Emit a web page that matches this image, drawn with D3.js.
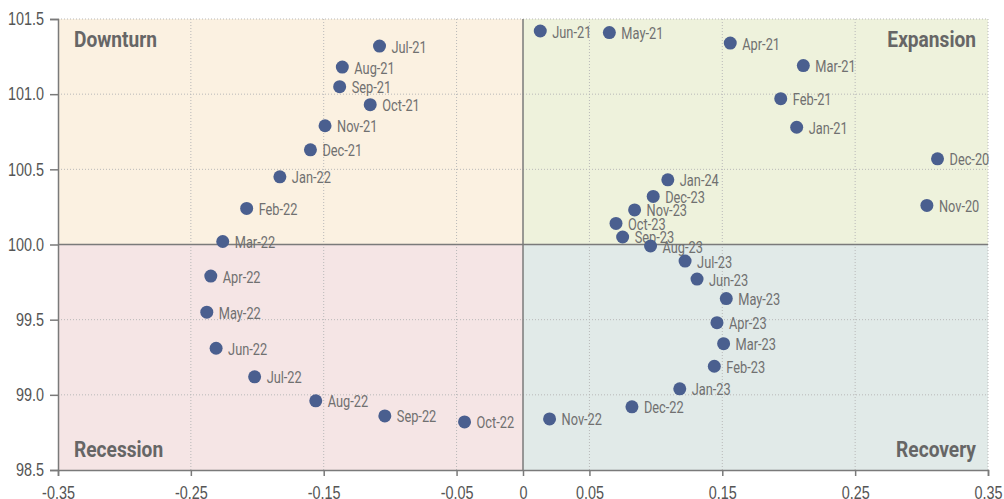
<!DOCTYPE html>
<html>
<head>
<meta charset="utf-8">
<script src="https://cdn.jsdelivr.net/npm/d3@7"></script>
<style>
  html, body { margin: 0; padding: 0; background: #fff; }
  svg { display: block; font-family: Roboto, "Liberation Sans", sans-serif; }
</style>
</head>
<body>
<div id="chart"></div>
<script>
// Business cycle scatter: momentum (x) vs level (y)
const months = [
  'Nov-20', 'Dec-20', 'Jan-21', 'Feb-21', 'Mar-21', 'Apr-21', 'May-21', 'Jun-21',
  'Jul-21', 'Aug-21', 'Sep-21', 'Oct-21', 'Nov-21', 'Dec-21', 'Jan-22', 'Feb-22',
  'Mar-22', 'Apr-22', 'May-22', 'Jun-22', 'Jul-22', 'Aug-22', 'Sep-22', 'Oct-22',
  'Nov-22', 'Dec-22', 'Jan-23', 'Feb-23', 'Mar-23', 'Apr-23', 'May-23', 'Jun-23',
  'Jul-23', 'Aug-23', 'Sep-23', 'Oct-23', 'Nov-23', 'Dec-23', 'Jan-24'
];
const momentum = [
  0.304, 0.312, 0.206, 0.194, 0.211, 0.156, 0.065, 0.013,
  -0.108, -0.136, -0.138, -0.115, -0.149, -0.160, -0.183, -0.208,
  -0.226, -0.235, -0.238, -0.231, -0.202, -0.156, -0.104, -0.044,
  0.020, 0.082, 0.118, 0.144, 0.151, 0.146, 0.153, 0.131,
  0.122, 0.096, 0.075, 0.070, 0.084, 0.098, 0.109
];
const level = [
  100.26, 100.57, 100.78, 100.97, 101.19, 101.34, 101.41, 101.42,
  101.32, 101.18, 101.05, 100.93, 100.79, 100.63, 100.45, 100.24,
  100.02, 99.79, 99.55, 99.31, 99.12, 98.96, 98.86, 98.82,
  98.84, 98.92, 99.04, 99.19, 99.34, 99.48, 99.64, 99.77,
  99.89, 99.99, 100.05, 100.14, 100.23, 100.32, 100.43
];
const xTicks = [-0.35, -0.25, -0.15, -0.05, 0, 0.05, 0.15, 0.25, 0.35];
const yTicks = [98.5, 99.0, 99.5, 100.0, 100.5, 101.0, 101.5];
const quadrants = ['Downturn', 'Expansion', 'Recession', 'Recovery'];

const MARGIN = { top: 19, right: 16, bottom: 29, left: 58 };
const width = 1004, height = 499;
const innerW = width - MARGIN.left - MARGIN.right;
const innerH = height - MARGIN.top - MARGIN.bottom;

// squeeze text horizontally to mimic a condensed face
function condense(sel, s) {
  sel.each(function () {
    const t = d3.select(this);
    const tx = +t.attr('x') || 0;
    const ty = +t.attr('y') || 0;
    t.attr('x', 0).attr('y', 0)
      .attr('transform', `translate(${tx},${ty}) scale(${s},1)`);
  });
}

const svg = d3.select('#chart').append('svg')
  .attr('width', width).attr('height', height);
const g = svg.append('g')
  .attr('transform', `translate(${MARGIN.left},${MARGIN.top})`);

const x = d3.scaleLinear().domain([-0.35, 0.35]).range([0, innerW]);
const y = d3.scaleLinear().domain([98.5, 101.5]).range([innerH, 0]);

// Quadrant backgrounds
const quadRects = [
  { x0: -0.35, x1: 0, y0: 100, y1: 101.5, fill: '#fbf1e1' },
  { x0: 0, x1: 0.35, y0: 100, y1: 101.5, fill: '#eef2dc' },
  { x0: -0.35, x1: 0, y0: 98.5, y1: 100, fill: '#f5e5e5' },
  { x0: 0, x1: 0.35, y0: 98.5, y1: 100, fill: '#e1eae8' }
];
g.selectAll('rect.quad').data(quadRects).join('rect')
  .attr('class', 'quad')
  .attr('x', d => x(d.x0)).attr('y', d => y(d.y1))
  .attr('width', d => x(d.x1) - x(d.x0)).attr('height', d => y(d.y0) - y(d.y1))
  .attr('fill', d => d.fill);

// Dotted gridlines
g.selectAll('line.vgrid').data(xTicks.filter(v => v !== 0 && v !== -0.35)).join('line')
  .attr('x1', d => x(d)).attr('x2', d => x(d))
  .attr('y1', 0).attr('y2', innerH)
  .attr('stroke', '#b8b8b8').attr('stroke-width', 1).attr('stroke-dasharray', '1 2');
g.selectAll('line.hgrid').data(yTicks.filter(v => v !== 100 && v !== 98.5)).join('line')
  .attr('x1', 0).attr('x2', innerW)
  .attr('y1', d => y(d)).attr('y2', d => y(d))
  .attr('stroke', '#b8b8b8').attr('stroke-width', 1).attr('stroke-dasharray', '1 2');

// Axes
const fmtX = d => d === 0 ? '0' : d3.format('.2f')(d).replace('−', '-');
const xAxis = g.append('g').attr('transform', `translate(0,${innerH})`)
  .call(d3.axisBottom(x).tickValues(xTicks).tickFormat(fmtX).tickSize(6).tickPadding(10));
const yAxis = g.append('g')
  .call(d3.axisLeft(y).tickValues(yTicks).tickFormat(d3.format('.1f')).tickSize(8).tickPadding(6));
[xAxis, yAxis].forEach(ax => {
  ax.select('.domain').attr('stroke', '#7a7a7a').attr('stroke-width', 1.5);
  ax.selectAll('.tick line').attr('stroke', '#7a7a7a').attr('stroke-width', 1.5);
  ax.selectAll('.tick text').attr('fill', '#555').attr('font-size', '18px')
    .call(condense, 0.8);
});

// Zero lines
g.append('line')
  .attr('x1', x(0)).attr('x2', x(0)).attr('y1', 0).attr('y2', innerH)
  .attr('stroke', '#7a7a7a').attr('stroke-width', 1.5);
g.append('line')
  .attr('x1', 0).attr('x2', innerW).attr('y1', y(100)).attr('y2', y(100))
  .attr('stroke', '#7a7a7a').attr('stroke-width', 1.5);

// Quadrant labels
const qPos = [
  { x: 16, y: 28, anchor: 'start' },
  { x: innerW - 12, y: 28, anchor: 'end' },
  { x: 16, y: innerH - 13, anchor: 'start' },
  { x: innerW - 12, y: innerH - 13, anchor: 'end' }
];
g.selectAll('text.quad').data(quadrants).join('text')
  .attr('class', 'quad')
  .attr('x', (d, i) => qPos[i].x).attr('y', (d, i) => qPos[i].y)
  .attr('text-anchor', (d, i) => qPos[i].anchor)
  .attr('font-size', '22px').attr('font-weight', 'bold').attr('fill', '#666')
  .text(d => d)
  .call(condense, 0.87);

// Points
const points = months.map((m, i) => ({ m, x: momentum[i], y: level[i] }));
g.selectAll('text.lbl').data(points).join('text')
  .attr('class', 'lbl')
  .attr('x', d => x(d.x) + 12).attr('y', d => y(d.y) + 6.5)
  .attr('font-size', '16px').attr('fill', '#707070')
  .text(d => d.m)
  .call(condense, 0.8);
g.selectAll('circle.pt').data(points).join('circle')
  .attr('class', 'pt')
  .attr('cx', d => x(d.x)).attr('cy', d => y(d.y)).attr('r', 6.5)
  .attr('fill', '#4a5f8f');
</script>
</body>
</html>
